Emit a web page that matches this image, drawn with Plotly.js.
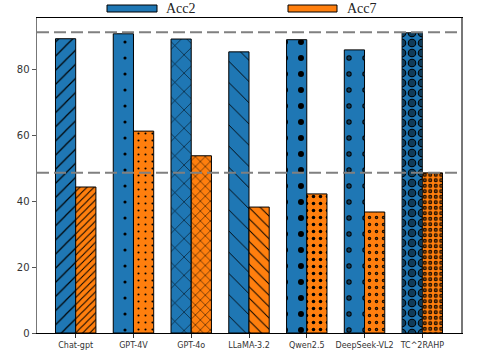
<!DOCTYPE html>
<html>
<head>
<meta charset="utf-8">
<script src="https://cdn.plot.ly/plotly-3.0.1.min.js"></script>
<style>
  html, body { margin: 0; padding: 0; background: #fff; }
  #chart { width: 498px; height: 359px; }
</style>
</head>
<body>
<div id="chart"></div>
<script>
// models on the x axis
let models = ["Chat-gpt", "GPT-4V", "GPT-4o", "LLaMA-3.2", "Qwen2.5", "DeepSeek-VL2", "TC^2RAHP"];

// accuracy values
let acc2 = [89.5, 91.0, 89.4, 85.5, 89.2, 86.1, 91.3];
let acc7 = [44.4, 61.4, 53.9, 38.3, 42.3, 36.8, 48.7];

// reference lines (dashed)
let refLines = [91.5, 48.7];

let blue = "#1f77b4";
let orange = "#ff7f0e";

// hatch per model, Acc2 bars are coarse and Acc7 bars are finer
let shapes2 = ["/", ".", "x", "\\", ".", ".", "."];
let sizes2 = [10, 16, 13, 15, 16, 16, 10];
let solid2 = [0.12, 0.03, 0.08, 0.06, 0.11, 0.09, 0.58];
let shapes7 = ["/", ".", "x", "\\", ".", ".", "."];
let sizes7 = [5, 7, 7, 8, 7, 7, 5.5];
let solid7 = [0.2, 0.07, 0.14, 0.12, 0.2, 0.17, 0.42];

// inner holes that turn the last two dot patterns into rings
let hole2 = ["", "", "", "", "", ".", "."];
let holeSolid2 = [0, 0, 0, 0, 0, 0.035, 0.34];
let hole7 = ["", "", "", "", "", ".", "."];
let holeSolid7 = [0, 0, 0, 0, 0, 0.045, 0.16];

let barW = 0.35;

let trace2 = {
  x: models, y: acc2, type: "bar", name: "Acc2",
  width: barW, offset: -barW,
  marker: {
    color: blue,
    line: {color: "black", width: 1},
    pattern: {shape: shapes2, size: sizes2, solidity: solid2, fgcolor: "black", bgcolor: blue, fillmode: "replace"}
  },
  showlegend: false
};
let trace7 = {
  x: models, y: acc7, type: "bar", name: "Acc7",
  width: barW, offset: 0,
  marker: {
    color: orange,
    line: {color: "black", width: 1},
    pattern: {shape: shapes7, size: sizes7, solidity: solid7, fgcolor: "black", bgcolor: orange, fillmode: "replace"}
  },
  showlegend: false
};
let holes2 = {
  x: models, y: acc2, type: "bar", width: barW, offset: -barW,
  marker: {
    color: "rgba(0,0,0,0)", line: {width: 0},
    pattern: {shape: hole2, size: sizes2, solidity: holeSolid2, fgcolor: blue, bgcolor: "rgba(0,0,0,0)", fillmode: "overlay"}
  },
  showlegend: false, hoverinfo: "skip"
};
let holes7 = {
  x: models, y: acc7, type: "bar", width: barW, offset: 0,
  marker: {
    color: "rgba(0,0,0,0)", line: {width: 0},
    pattern: {shape: hole7, size: sizes7, solidity: holeSolid7, fgcolor: orange, bgcolor: "rgba(0,0,0,0)", fillmode: "overlay"}
  },
  showlegend: false, hoverinfo: "skip"
};

let shapes = refLines.map(v => ({
  type: "line", xref: "paper", x0: 0, x1: 1, yref: "y", y0: v, y1: v,
  line: {color: "#808080", width: 2, dash: "12px,5px"}
}));

// legend drawn by hand: wide flat swatches like the original
shapes.push({type: "rect", xref: "paper", yref: "paper", x0: (107-37)/424, x1: (157-37)/424, y0: 1 + 6/315, y1: 1 + 13/315,
  fillcolor: blue, line: {color: "black", width: 1}});
shapes.push({type: "rect", xref: "paper", yref: "paper", x0: (288-37)/424, x1: (337-37)/424, y0: 1 + 6/315, y1: 1 + 13/315,
  fillcolor: orange, line: {color: "black", width: 1}});

let annotations = [
  {text: "Acc2", xref: "paper", yref: "paper", x: (164-37)/424, y: 1 + 10/315, xanchor: "left", yanchor: "middle",
    showarrow: false, font: {family: "Liberation Serif", size: 14, color: "#222"}},
  {text: "Acc7", xref: "paper", yref: "paper", x: (345-37)/424, y: 1 + 10/315, xanchor: "left", yanchor: "middle",
    showarrow: false, font: {family: "Liberation Serif", size: 14, color: "#222"}}
];

let layout = {
  width: 498, height: 359,
  margin: {l: 37, r: 37, t: 18, b: 26},
  paper_bgcolor: "white", plot_bgcolor: "white",
  barmode: "overlay",
  font: {family: "DejaVu Sans", color: "#333"},
  xaxis: {
    range: [-0.67, 6.67], showgrid: false, zeroline: false,
    showline: true, linecolor: "black", linewidth: 1, mirror: true,
    ticks: "outside", ticklen: 4, tickcolor: "#333",
    tickfont: {size: 8, color: "#333"}
  },
  yaxis: {
    range: [0, 95.8], showgrid: false, zeroline: false,
    showline: true, linecolor: "#777", linewidth: 1.5, mirror: true,
    ticks: "outside", ticklen: 4, tickcolor: "#555",
    tickvals: [0, 20, 40, 60, 80],
    tickfont: {size: 10, color: "#333"}
  },
  shapes: shapes,
  annotations: annotations
};

Plotly.newPlot("chart", [trace2, trace7, holes2, holes7], layout, {displayModeBar: false, staticPlot: true});
</script>
</body>
</html>
